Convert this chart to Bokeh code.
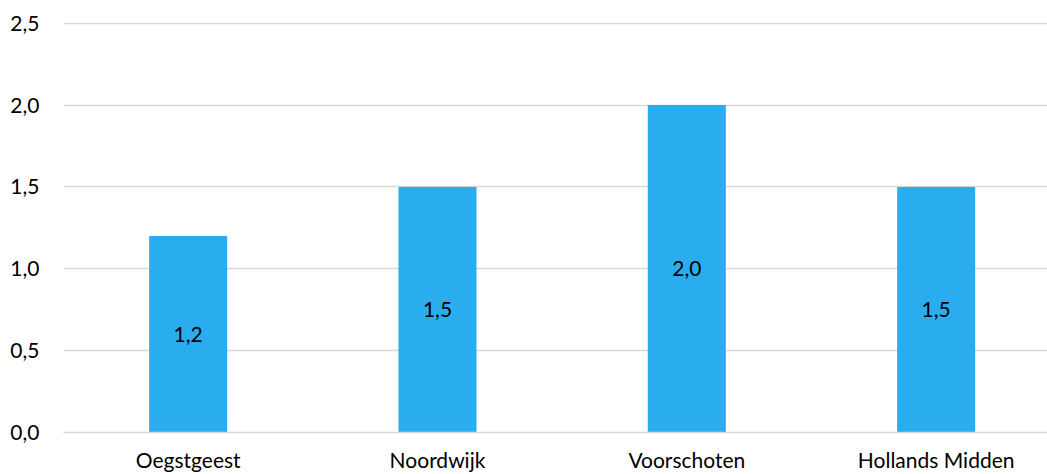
from bokeh.plotting import figure
from bokeh.models import ColumnDataSource, Range1d, FixedTicker, CustomJSTickFormatter
from bokeh.core.properties import value
from bokeh.embed import file_html
from bokeh.resources import INLINE

categories = ["Oegstgeest", "Noordwijk", "Voorschoten", "Hollands Midden"]
values = [1.2, 1.5, 2.0, 1.5]
y_ticks = [0.0, 0.5, 1.0, 1.5, 2.0, 2.5]

xpos = [i + 0.5 for i in range(len(categories))]
labels = [f"{v:.1f}".replace(".", ",") for v in values]
src = ColumnDataSource(dict(x=xpos, top=values, mid=[v / 2 for v in values], lab=labels))

FONT = "Lato"
p = figure(width=1047, height=474, output_backend="svg", toolbar_location=None,
           x_range=Range1d(0, 984 / 249.33), y_range=Range1d(0, 2.504),
           min_border_left=63, min_border_right=0, min_border_top=22, min_border_bottom=40)
p.outline_line_color = None
p.background_fill_color = "white"

p.vbar(x="x", top="top", width=0.313, bottom=0, source=src, color="#29ADEE", line_color=None)
p.text(x="x", y="mid", text="lab", source=src, text_align="center", text_baseline="middle",
       text_font=value(FONT), text_font_size="21px", text_color="#000000")

p.xgrid.grid_line_color = None
p.ygrid.grid_line_color = "#d9d9d9"
p.ygrid.grid_line_width = 1.5
p.ygrid.ticker = FixedTicker(ticks=y_ticks)

p.yaxis.ticker = FixedTicker(ticks=y_ticks)
p.yaxis.formatter = CustomJSTickFormatter(code="return tick.toFixed(1).replace('.', ',');")
p.yaxis.axis_line_color = None
p.yaxis.major_tick_line_color = None
p.yaxis.minor_tick_line_color = None
p.yaxis.major_label_standoff = 18
p.yaxis.major_label_text_font = FONT
p.yaxis.major_label_text_font_size = "21px"
p.yaxis.major_label_text_color = "#000000"

p.xaxis.ticker = FixedTicker(ticks=xpos)
p.xaxis.major_label_overrides = {x: c for x, c in zip(xpos, categories)}
p.xaxis.axis_line_color = "#d9d9d9"
p.xaxis.axis_line_width = 1.5
p.xaxis.major_tick_line_color = None
p.xaxis.minor_tick_line_color = None
p.xaxis.major_label_standoff = 8
p.xaxis.major_label_text_font = FONT
p.xaxis.major_label_text_font_size = "21px"
p.xaxis.major_label_text_color = "#000000"

open("out.html", "w").write(file_html(p, INLINE))
